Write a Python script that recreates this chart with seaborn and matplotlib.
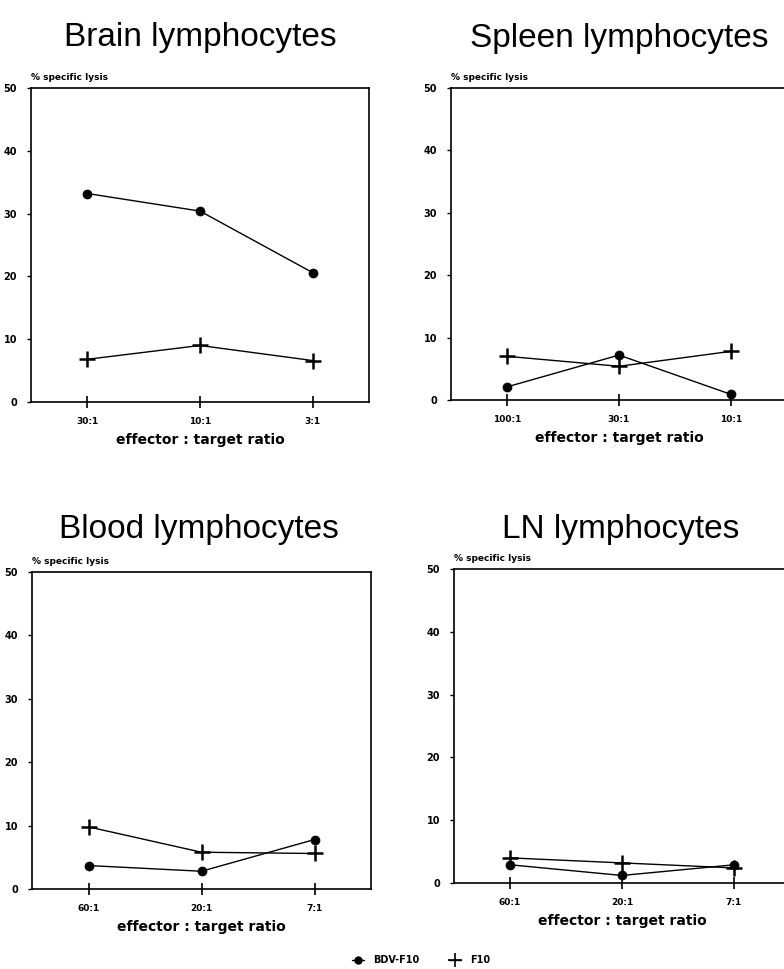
import matplotlib
matplotlib.use("Agg")
import matplotlib.pyplot as plt
import seaborn as sns
import pandas as pd
from matplotlib.lines import Line2D

sns.set_style("white")
plt.rcParams['font.family'] = ['Liberation Sans', 'DejaVu Sans']
plt.rcParams['text.color'] = 'black'
plt.rcParams['xtick.color'] = 'black'
plt.rcParams['ytick.color'] = 'black'
plt.rcParams['axes.labelcolor'] = 'black'

titles = ["Brain lymphocytes", "Spleen lymphocytes", "Blood lymphocytes", "LN lymphocytes"]
ratios_brain = ["30:1", "10:1", "3:1"]
ratios_spleen = ["100:1", "30:1", "10:1"]
ratios_blood = ["60:1", "20:1", "7:1"]
ratios_ln = ["60:1", "20:1", "7:1"]

bdv_brain = [33.2, 30.4, 20.6]
f10_brain = [6.8, 9.0, 6.6]
bdv_spleen = [2.1, 7.2, 0.9]
f10_spleen = [7.0, 5.4, 7.8]
bdv_blood = [3.7, 2.8, 7.8]
f10_blood = [9.8, 5.8, 5.6]
bdv_ln = [2.9, 1.2, 2.9]
f10_ln = [4.0, 3.2, 2.4]

series_names = ["BDV-F10", "F10"]
yticks = [0, 10, 20, 30, 40, 50]

W, H = 784, 969
fig = plt.figure(figsize=(W / 100, H / 100), dpi=100)

SMALL = dict(family=["DejaVu Sans"], fontweight="bold")

# pixel boxes: left, top, right, bottom
boxes = [(31, 88, 369, 402), (451, 88, 787, 400), (32, 572, 371, 889), (454, 569, 790, 883)]
title_pos = [(200, 46), (619, 47), (199, 538), (621, 538)]
panels = [(ratios_brain, bdv_brain, f10_brain), (ratios_spleen, bdv_spleen, f10_spleen),
          (ratios_blood, bdv_blood, f10_blood), (ratios_ln, bdv_ln, f10_ln)]

for i, ((l, t, r, b), (ratios, bdv, f10)) in enumerate(zip(boxes, panels)):
    ax = fig.add_axes([l / W, 1 - b / H, (r - l) / W, (b - t) / H])
    df_b = pd.DataFrame({"ratio": ratios, "lysis": bdv})
    df_f = pd.DataFrame({"ratio": ratios, "lysis": f10})
    sns.lineplot(data=df_b, x="ratio", y="lysis", color="black", marker="o",
                 linewidth=1.0, markersize=6.5, markeredgewidth=0.5,
                 markeredgecolor="black", sort=False, ax=ax)
    sns.lineplot(data=df_f, x="ratio", y="lysis", color="black", marker="+",
                 linewidth=1.0, markersize=11, markeredgewidth=1.8,
                 markeredgecolor="black", sort=False, ax=ax)
    ax.set_xlim(-0.5, 2.5)
    ax.set_ylim(0, 50)
    ax.set_yticks(yticks)
    ax.set_yticklabels([str(v) for v in yticks], fontsize=7, **SMALL)
    ax.set_xticks(range(3))
    ax.set_xticklabels(ratios, fontsize=6.5, **SMALL)
    ax.tick_params(axis="x", bottom=True, direction="inout", length=8, width=1.2, pad=7)
    ax.tick_params(axis="y", left=True, direction="out", length=3, width=1.0, pad=7)
    for s in ax.spines.values():
        s.set_color("black")
        s.set_linewidth(1.2)
    ax.set_xlabel("effector : target ratio", fontsize=10, labelpad=5, **SMALL)
    ax.set_ylabel("")
    ax.text(0, 1.02, "% specific lysis", transform=ax.transAxes, fontsize=6.5,
            ha="left", va="bottom", **SMALL)
    tx, ty = title_pos[i]
    fig.text(tx / W, 1 - ty / H, titles[i], fontsize=24, ha="center", va="baseline",
             family=["Liberation Sans", "DejaVu Sans"])

# legend
handles = [Line2D([], [], color="black", marker="o", markersize=5, linewidth=1.0),
           Line2D([], [], color="black", marker="+", markersize=10, markeredgewidth=1.2,
                  linewidth=1.0)]
leg = fig.legend(handles, series_names, loc="center", bbox_to_anchor=(421 / W, 1 - 960 / H),
                 ncol=2, frameon=False, prop={"size": 7, "weight": "bold", "family": "DejaVu Sans"},
                 handlelength=1.3, columnspacing=3.0, handletextpad=0.9)

fig.savefig("out.png", dpi=100, facecolor="white")
